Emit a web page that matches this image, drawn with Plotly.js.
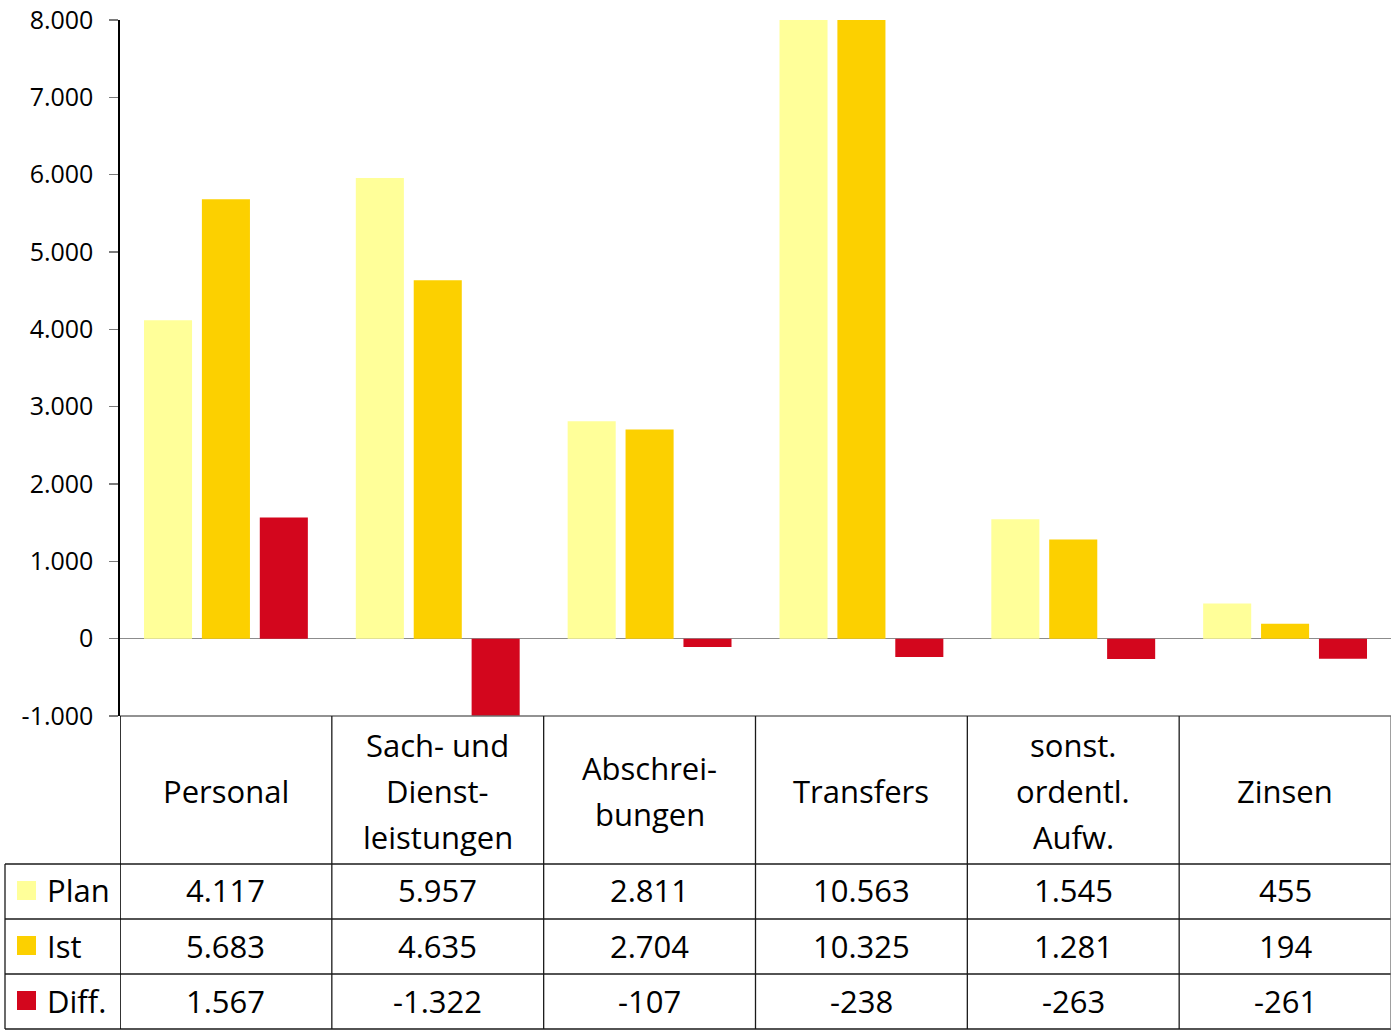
<!DOCTYPE html>
<html>
<head>
<meta charset="utf-8">
<script src="https://cdn.plot.ly/plotly-3.0.1.min.js"></script>
<style>html,body{margin:0;padding:0;background:#fff;}#chart{width:1392px;height:1032px;}</style>
</head>
<body>
<div id="chart"></div>
<script>
// ---- data ----
const categories = ["Personal", "Sach- und Dienstleistungen", "Abschreibungen", "Transfers", "sonst. ordentl. Aufw.", "Zinsen"];
const categoryLabels = ["Personal", "Sach- und<br>Dienst-<br>leistungen", "Abschrei-<br>bungen", "Transfers", "sonst.<br>ordentl.<br>Aufw.", "Zinsen"];
const seriesNames = ["Plan", "Ist", "Diff."];
const plan = [4117, 5957, 2811, 10563, 1545, 455];
const ist  = [5683, 4635, 2704, 10325, 1281, 194];
const diff = [1567, -1322, -107, -238, -263, -261];
const yTickVals = [-1000, 0, 1000, 2000, 3000, 4000, 5000, 6000, 7000, 8000];

// ---- styles ----
const colors = ["#FFFF99", "#FCD000", "#D3061D"];
const FONT = "Open Sans, Noto Sans, DejaVu Sans, sans-serif";
const W = 1392, H = 1032;
const M = {l: 120, r: 1, t: 20, b: 316};
const plotH = H - M.t - M.b;
const plotW = W - M.l - M.r;
const py = p => (H - M.b - p) / plotH;   // pixel y -> paper y
const px = p => (p - M.l) / plotW;       // pixel x -> paper x

function fmt(v) {
  const s = Math.abs(v).toString().replace(/\B(?=(\d{3})+(?!\d))/g, ".");
  return (v < 0 ? "-" : "") + s;
}

const series = [plan, ist, diff];
const traces = series.map((vals, i) => ({
  type: "bar",
  name: seriesNames[i],
  x: categories,
  y: vals,
  marker: {color: colors[i], line: {width: 0}},
  hoverinfo: "x+y"
}));

const shapes = [];
const annotations = [];
const lineDark = {color: "#1a1a1a", width: 1.3};
const lineGray = {color: "#6e6e6e", width: 1.3};

// table geometry (pixel rows)
const headerTop = 716, headerBottom = 864, rowH = 55, headerLineH = 46;
const rowLines = [headerBottom, headerBottom + rowH, headerBottom + 2 * rowH, headerBottom + 3 * rowH];

// top border of header row
shapes.push({type: "line", xref: "paper", yref: "paper", x0: 0, x1: 1, y0: py(headerTop), y1: py(headerTop), line: lineGray});
// horizontal row lines
rowLines.forEach(p => shapes.push({type: "line", xref: "paper", yref: "paper", x0: px(5), x1: 1, y0: py(p), y1: py(p), line: lineDark}));
// vertical lines between categories
for (let i = 0; i <= categories.length; i++) {
  const xv = i - 0.5;
  shapes.push({type: "line", xref: "x", yref: "paper", x0: xv, x1: xv, y0: py(headerTop), y1: py(rowLines[3]),
    line: (i === 0) ? {color: "#000", width: 1.6} : (i === categories.length ? lineGray : lineDark)});
}
// left border of legend column
shapes.push({type: "line", xref: "paper", yref: "paper", x0: px(5), x1: px(5), y0: py(headerBottom), y1: py(rowLines[3]), line: lineDark});

// header labels (one annotation per line for Excel-like line spacing)
const headerMid = (headerTop + headerBottom) / 2 + 1;
categories.forEach((c, i) => {
  const lines = categoryLabels[i].split("<br>");
  lines.forEach((ln, k) => {
    const yp = headerMid + (k - (lines.length - 1) / 2) * headerLineH;
    annotations.push({xref: "x", yref: "paper", x: c, y: py(yp),
      text: ln, showarrow: false, xanchor: "center", yanchor: "middle",
      font: {family: FONT, size: 31, color: "#000"}});
  });
});

// rows
series.forEach((vals, r) => {
  const yc = py(headerBottom + rowH * r + rowH / 2 - 1);
  // legend key
  shapes.push({type: "rect", xref: "paper", yref: "paper", x0: px(17), x1: px(36),
    y0: yc - 9.5 / plotH, y1: yc + 9.5 / plotH, fillcolor: colors[r], line: {width: 0}});
  annotations.push({xref: "paper", yref: "paper", x: px(45), y: yc, text: seriesNames[r], showarrow: false,
    xanchor: "left", yanchor: "middle", font: {family: FONT, size: 31, color: "#000"}});
  vals.forEach((v, i) => {
    annotations.push({xref: "x", yref: "paper", x: categories[i], y: yc, text: fmt(v), showarrow: false,
      xanchor: "center", yanchor: "middle", font: {family: FONT, size: 31, color: "#000"}});
  });
});

const layout = {
  width: W, height: H,
  margin: M,
  paper_bgcolor: "#fff", plot_bgcolor: "#fff",
  showlegend: false,
  barmode: "group",
  bargap: 0.18,
  bargroupgap: 0.17,
  font: {family: FONT, color: "#000"},
  xaxis: {type: "category", range: [-0.5, 5.5], showticklabels: false, showgrid: false, zeroline: false,
    showline: false, ticks: "", fixedrange: true},
  yaxis: {range: [-1000, 8000], tickvals: yTickVals, ticktext: yTickVals.map(fmt), showgrid: false,
    zeroline: true, zerolinecolor: "#8c8c8c", zerolinewidth: 1.3,
    showline: true, linecolor: "#000", linewidth: 1.6, ticks: "outside", ticklen: 9, tickcolor: "#7a7a7a", tickwidth: 1.3,
    ticklabelstandoff: 11, tickfont: {family: FONT, size: 25, color: "#000"}, fixedrange: true},
  shapes: shapes,
  annotations: annotations
};

Plotly.newPlot("chart", traces, layout, {displayModeBar: false, staticPlot: true});
</script>
</body>
</html>
